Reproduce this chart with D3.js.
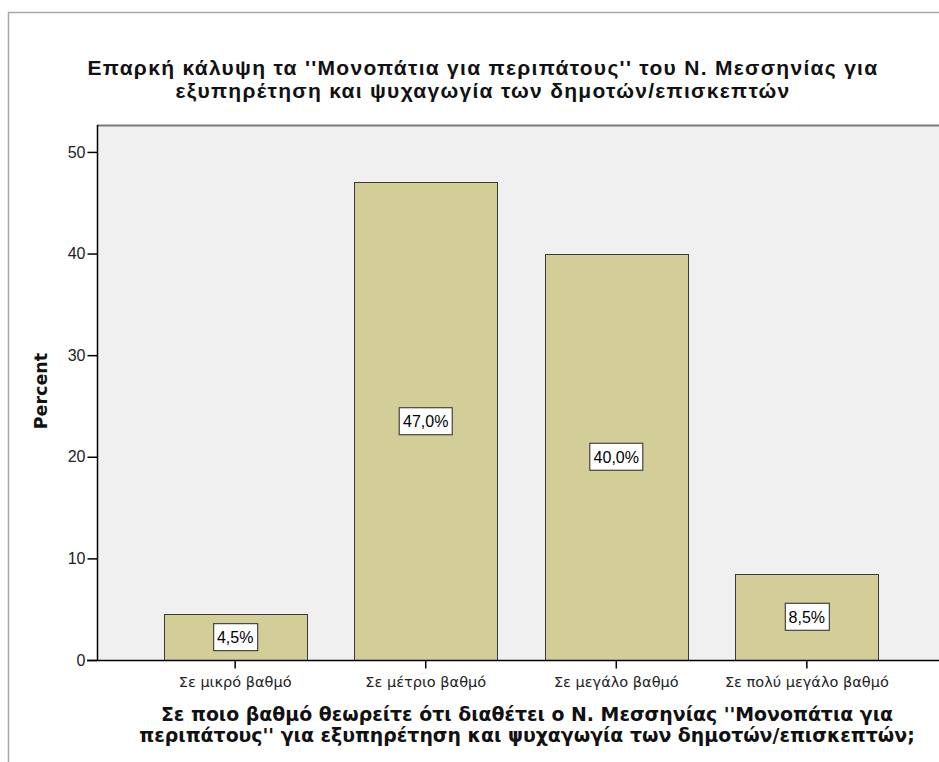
<!DOCTYPE html>
<html>
<head>
<meta charset="utf-8">
<script src="https://cdn.jsdelivr.net/npm/d3@7"></script>
<style>
  html, body { margin: 0; padding: 0; background: #fff; }
  svg { display: block; }
</style>
</head>
<body>
<svg id="chart" width="939" height="762"></svg>
<script>
// chart data
const categories = ["Σε μικρό βαθμό", "Σε μέτριο βαθμό", "Σε μεγάλο βαθμό", "Σε πολύ μεγάλο βαθμό"];
const percents = [4.5, 47.0, 40.0, 8.5];
const yTicks = [0, 10, 20, 30, 40, 50];

const titleLines = [
  "Επαρκή κάλυψη τα ''Μονοπάτια για περιπάτους'' του Ν. Μεσσηνίας για",
  "εξυπηρέτηση και ψυχαγωγία των δημοτών/επισκεπτών"
];
const xTitleLines = [
  "Σε ποιο βαθμό θεωρείτε ότι διαθέτει ο Ν. Μεσσηνίας ''Μονοπάτια για",
  "περιπάτους'' για εξυπηρέτηση και ψυχαγωγία των δημοτών/επισκεπτών;"
];
const yTitle = "Percent";

const svg = d3.select("#chart");

// plot area
const plot = { left: 97, right: 945, top: 125, bottom: 660 };

const x = d3.scaleBand()
  .domain(categories)
  .range([plot.left, plot.right])
  .paddingInner(0.25)
  .paddingOuter(0.35);

const y = d3.scaleLinear()
  .domain([0, 52.65])
  .range([plot.bottom, plot.top]);

// outer frame
svg.append("path")
  .attr("d", `M8.5,762 V12.5 H939`)
  .attr("fill", "none")
  .attr("stroke", "#a8a8a8")
  .attr("stroke-width", 1.5);

// plot background
svg.append("rect")
  .attr("x", plot.left)
  .attr("y", plot.top)
  .attr("width", plot.right - plot.left)
  .attr("height", plot.bottom - plot.top)
  .attr("fill", "#f0f0f0");

svg.append("line")
  .attr("x1", plot.left).attr("x2", 939)
  .attr("y1", plot.top + 0.5).attr("y2", plot.top + 0.5)
  .attr("stroke", "#7a7a7a")
  .attr("stroke-width", 2);

// bars
svg.append("g")
  .selectAll("rect")
  .data(percents)
  .join("rect")
  .attr("x", (d, i) => Math.round(x(categories[i])) + 0.5)
  .attr("y", (d) => Math.round(y(d)) + 0.5)
  .attr("width", Math.round(x.bandwidth()))
  .attr("height", (d) => Math.round(y(0)) - Math.round(y(d)))
  .attr("fill", "#d3ce98")
  .attr("stroke", "#3a3a3a")
  .attr("stroke-width", 1);

// value labels in the middle of each bar
const labels = svg.append("g")
  .selectAll("g")
  .data(percents)
  .join("g")
  .attr("transform", (d, i) =>
    `translate(${x(categories[i]) + x.bandwidth() / 2},${(y(d) + y(0)) / 2})`);

labels.each(function (d) {
  const g = d3.select(this);
  const txt = g.append("text")
    .attr("text-anchor", "middle")
    .attr("dy", "0.36em")
    .attr("font-family", "Liberation Sans, Arial, sans-serif")
    .attr("font-size", 16)
    .attr("fill", "#000")
    .text(d.toFixed(1).replace(".", ",") + "%");
  const w = txt.node().getComputedTextLength() + 8;
  g.insert("rect", "text")
    .attr("x", Math.round(-w / 2) + 0.5)
    .attr("y", -13.5)
    .attr("width", Math.round(w))
    .attr("height", 27)
    .attr("fill", "#fff")
    .attr("stroke", "#444")
    .attr("stroke-width", 1.2);
});

// y axis
const yAxis = svg.append("g")
  .attr("transform", `translate(${plot.left + 0.5},0)`)
  .call(d3.axisLeft(y).tickValues(yTicks).tickSize(10).tickPadding(2));
yAxis.select(".domain")
  .attr("d", `M0,${plot.top}V${plot.bottom + 0.5}`)
  .attr("stroke", "#000")
  .attr("stroke-width", 1.5);
yAxis.selectAll(".tick line").attr("stroke", "#000").attr("stroke-width", 1.5);
yAxis.selectAll(".tick text")
  .attr("font-family", "Liberation Sans, Arial, sans-serif")
  .attr("font-size", 16)
  .attr("fill", "#222");

// x axis
const xAxis = svg.append("g")
  .attr("transform", `translate(0,${plot.bottom + 0.5})`)
  .call(d3.axisBottom(x).tickSize(8).tickPadding(8));
xAxis.select(".domain")
  .attr("d", `M${plot.left - 10},0H939`)
  .attr("stroke", "#000")
  .attr("stroke-width", 1.5);
xAxis.selectAll(".tick line").attr("stroke", "#000").attr("stroke-width", 1.5);
xAxis.selectAll(".tick text")
  .attr("font-family", "DejaVu Sans, sans-serif")
  .attr("font-size", 14.5)
  .attr("fill", "#222");

// chart title
svg.append("text")
  .attr("text-anchor", "middle")
  .attr("font-family", "Liberation Sans, Arial, sans-serif")
  .attr("font-weight", "bold")
  .attr("font-size", 21)
  .attr("letter-spacing", 1.3)
  .attr("fill", "#111")
  .selectAll("tspan")
  .data(titleLines)
  .join("tspan")
  .attr("x", 483)
  .attr("y", (d, i) => 75 + i * 23)
  .text((d) => d);

// axis titles
svg.append("text")
  .attr("text-anchor", "middle")
  .attr("font-family", "DejaVu Sans, sans-serif")
  .attr("font-weight", "bold")
  .attr("font-size", 18.9)
  .attr("fill", "#111")
  .selectAll("tspan")
  .data(xTitleLines)
  .join("tspan")
  .attr("x", 527)
  .attr("y", (d, i) => 721 + i * 21)
  .text((d) => d);

svg.append("text")
  .attr("transform", "translate(47,391) rotate(-90)")
  .attr("text-anchor", "middle")
  .attr("font-family", "DejaVu Sans, sans-serif")
  .attr("font-weight", "bold")
  .attr("font-size", 17.5)
  .attr("fill", "#111")
  .text(yTitle);
</script>
</body>
</html>
